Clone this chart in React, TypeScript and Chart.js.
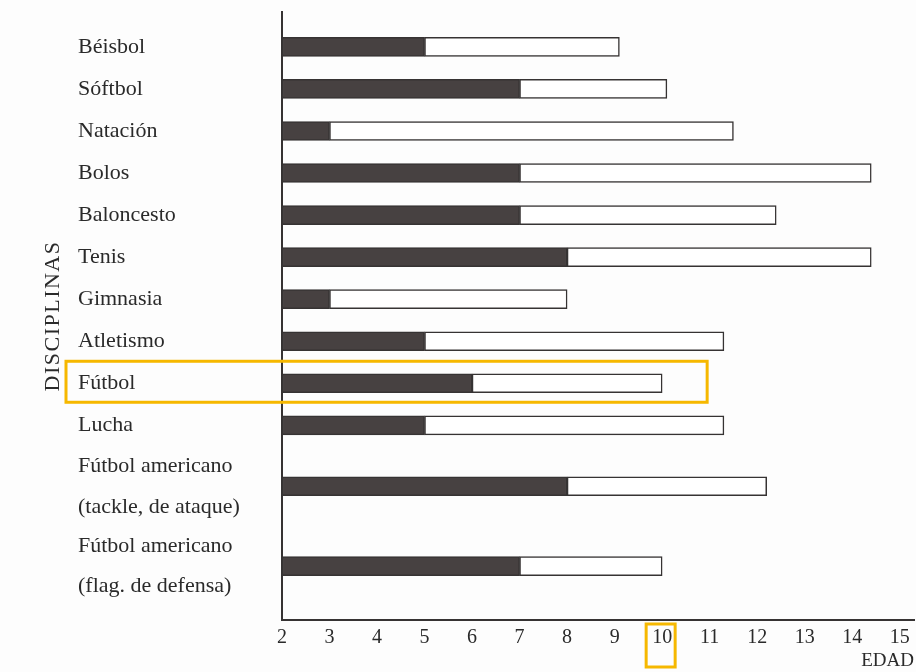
import React, { useEffect, useRef } from 'react';
import { Chart, registerables, CategoryScale } from 'chart.js';

Chart.register(...registerables);

// ---------- data ----------
const categories: (string | string[])[] = [
  'Béisbol',
  'Sóftbol',
  'Natación',
  'Bolos',
  'Baloncesto',
  'Tenis',
  'Gimnasia',
  'Atletismo',
  'Fútbol',
  'Lucha',
  ['Fútbol americano', '(tackle, de ataque)'],
  ['Fútbol americano', '(flag. de defensa)'],
];
const startAge = [2, 2, 2, 2, 2, 2, 2, 2, 2, 2, 2, 2];
const darkEndAge = [5, 7, 3, 7, 7, 8, 3, 5, 6, 5, 8, 7];
const whiteEndAge = [9.1, 10.1, 11.5, 14.4, 12.4, 14.4, 8, 11.3, 10, 11.3, 12.2, 10];
const ageTicks = [2, 3, 4, 5, 6, 7, 8, 9, 10, 11, 12, 13, 14, 15];
const xAxisTitle = 'EDAD';
const yAxisTitle = 'DISCIPLINAS';
const highlightCategory = 'Fútbol';
const highlightAge = 10;

// ---------- layout / style ----------
const ROW_WEIGHTS = [1, 1, 1, 1, 1, 1, 1, 1, 1, 1, 1.9, 1.9];
const PAD_START = 0.33;
const PAD_END = 0.33;
const TEXT = '#2a2a2a';
const LINE = '#363333';
const DARK = '#474141';
const ORANGE = '#F6B800';
const FONT = '"Liberation Serif", "Times New Roman", serif';

class WeightedCategoryScale extends CategoryScale {
  static id = 'weightedCategory';
  static defaults = {};
  getPixelForValue(value: any) {
    if (typeof value !== 'number') value = (this as any).parse(value);
    if (value === null || value === undefined || isNaN(value)) return NaN;
    const n = this.getLabels().length;
    const w = (i: number) => (ROW_WEIGHTS[i] ?? 1);
    let total = PAD_START + PAD_END;
    for (let i = 0; i < n; i++) total += w(i);
    const idx = Math.max(0, Math.min(n - 1, Math.round(value)));
    let before = PAD_START;
    for (let i = 0; i < idx; i++) before += w(i);
    const center = before + w(idx) / 2 + (value - idx);
    return this.getPixelForDecimal(center / total);
  }
}
Chart.register(WeightedCategoryScale as any);

const decorPlugin = {
  id: 'decor',
  afterDraw(chart: any) {
    const { ctx, chartArea, scales } = chart;
    const xs = scales.x;
    const ys = scales.y;
    // vertical axis title
    ctx.save();
    ctx.fillStyle = TEXT;
    ctx.font = `22px ${FONT}`;
    ctx.translate(ys.left - 25, (chartArea.top + chartArea.bottom) / 2);
    ctx.rotate(-Math.PI / 2);
    ctx.textAlign = 'center';
    ctx.textBaseline = 'middle';
    (ctx as any).letterSpacing = '1.5px';
    ctx.fillText(yAxisTitle, 0, 0);
    ctx.restore();

    // highlight boxes
    ctx.save();
    ctx.strokeStyle = ORANGE;
    ctx.lineWidth = 3;
    const ci = categories.indexOf(highlightCategory);
    const cy = ys.getPixelForValue(ci);
    const left = ys.left - 12;
    const right = xs.getPixelForValue(whiteEndAge[ci]) + 45;
    ctx.strokeRect(left, cy - 22, right - left, 41);
    const tx = xs.getPixelForValue(highlightAge);
    ctx.strokeRect(tx - 16, chartArea.bottom + 4, 29, 43);
    ctx.restore();
  },
};

export default function App() {
  const ref = useRef<HTMLCanvasElement>(null);
  useEffect(() => {
    if (!ref.current) return;
    const chart = new Chart(ref.current, {
      type: 'bar',
      data: {
        labels: categories as any,
        datasets: [
          {
            label: 'inicio',
            data: startAge.map((s, i) => [s, darkEndAge[i]]) as any,
            backgroundColor: DARK,
            borderColor: LINE,
            borderWidth: 1.5,
            borderSkipped: false,
            barThickness: 19,
            grouped: false,
          } as any,
          {
            label: 'fin',
            data: darkEndAge.map((s, i) => [s, whiteEndAge[i]]) as any,
            backgroundColor: '#ffffff',
            borderColor: LINE,
            borderWidth: 1.5,
            borderSkipped: false,
            barThickness: 19,
            grouped: false,
          } as any,
        ],
      },
      options: {
        indexAxis: 'y',
        animation: false,
        responsive: false,
        devicePixelRatio: 1,
        layout: { padding: { left: 78, top: 12, right: 2, bottom: 0 } },
        plugins: {
          legend: { display: false },
          tooltip: { enabled: false },
        },
        scales: {
          x: {
            type: 'linear',
            min: ageTicks[0],
            max: 15.3,
            grid: { display: false, drawTicks: false },
            border: { display: true, color: LINE, width: 2 },
            afterBuildTicks: (scale: any) => {
              scale.ticks = ageTicks.map((v) => ({ value: v }));
            },
            afterFit: (scale: any) => {
              scale.height = 52;
              scale.paddingLeft = 0;
              scale.paddingRight = 0;
            },
            ticks: {
              autoSkip: false,
              maxRotation: 0,
              padding: 6,
              color: TEXT,
              font: { family: FONT, size: 20 },
              callback: (v: any) => String(v),
            },
            title: {
              display: true,
              text: xAxisTitle,
              align: 'end',
              color: TEXT,
              font: { family: FONT, size: 19 },
              padding: 0,
            },
          },
          y: {
            type: 'weightedCategory' as any,
            grid: { display: false, drawTicks: false },
            border: { display: true, color: LINE, width: 2 },
            afterFit: (scale: any) => {
              scale.width = 204;
              scale.paddingTop = 0;
              scale.paddingBottom = 0;
            },
            ticks: {
              autoSkip: false,
              crossAlign: 'far',
              color: TEXT,
              font: { family: FONT, size: 22, lineHeight: 1.86 },
            },
          } as any,
        },
      },
      plugins: [decorPlugin],
    });
    return () => chart.destroy();
  }, []);

  return (
    <div
      style={{
        position: 'fixed',
        left: 0,
        top: 0,
        width: 916,
        height: 672,
        background: '#fdfdfd',
      }}
    >
      <canvas ref={ref} width={916} height={672} style={{ display: 'block' }} />
    </div>
  );
}
